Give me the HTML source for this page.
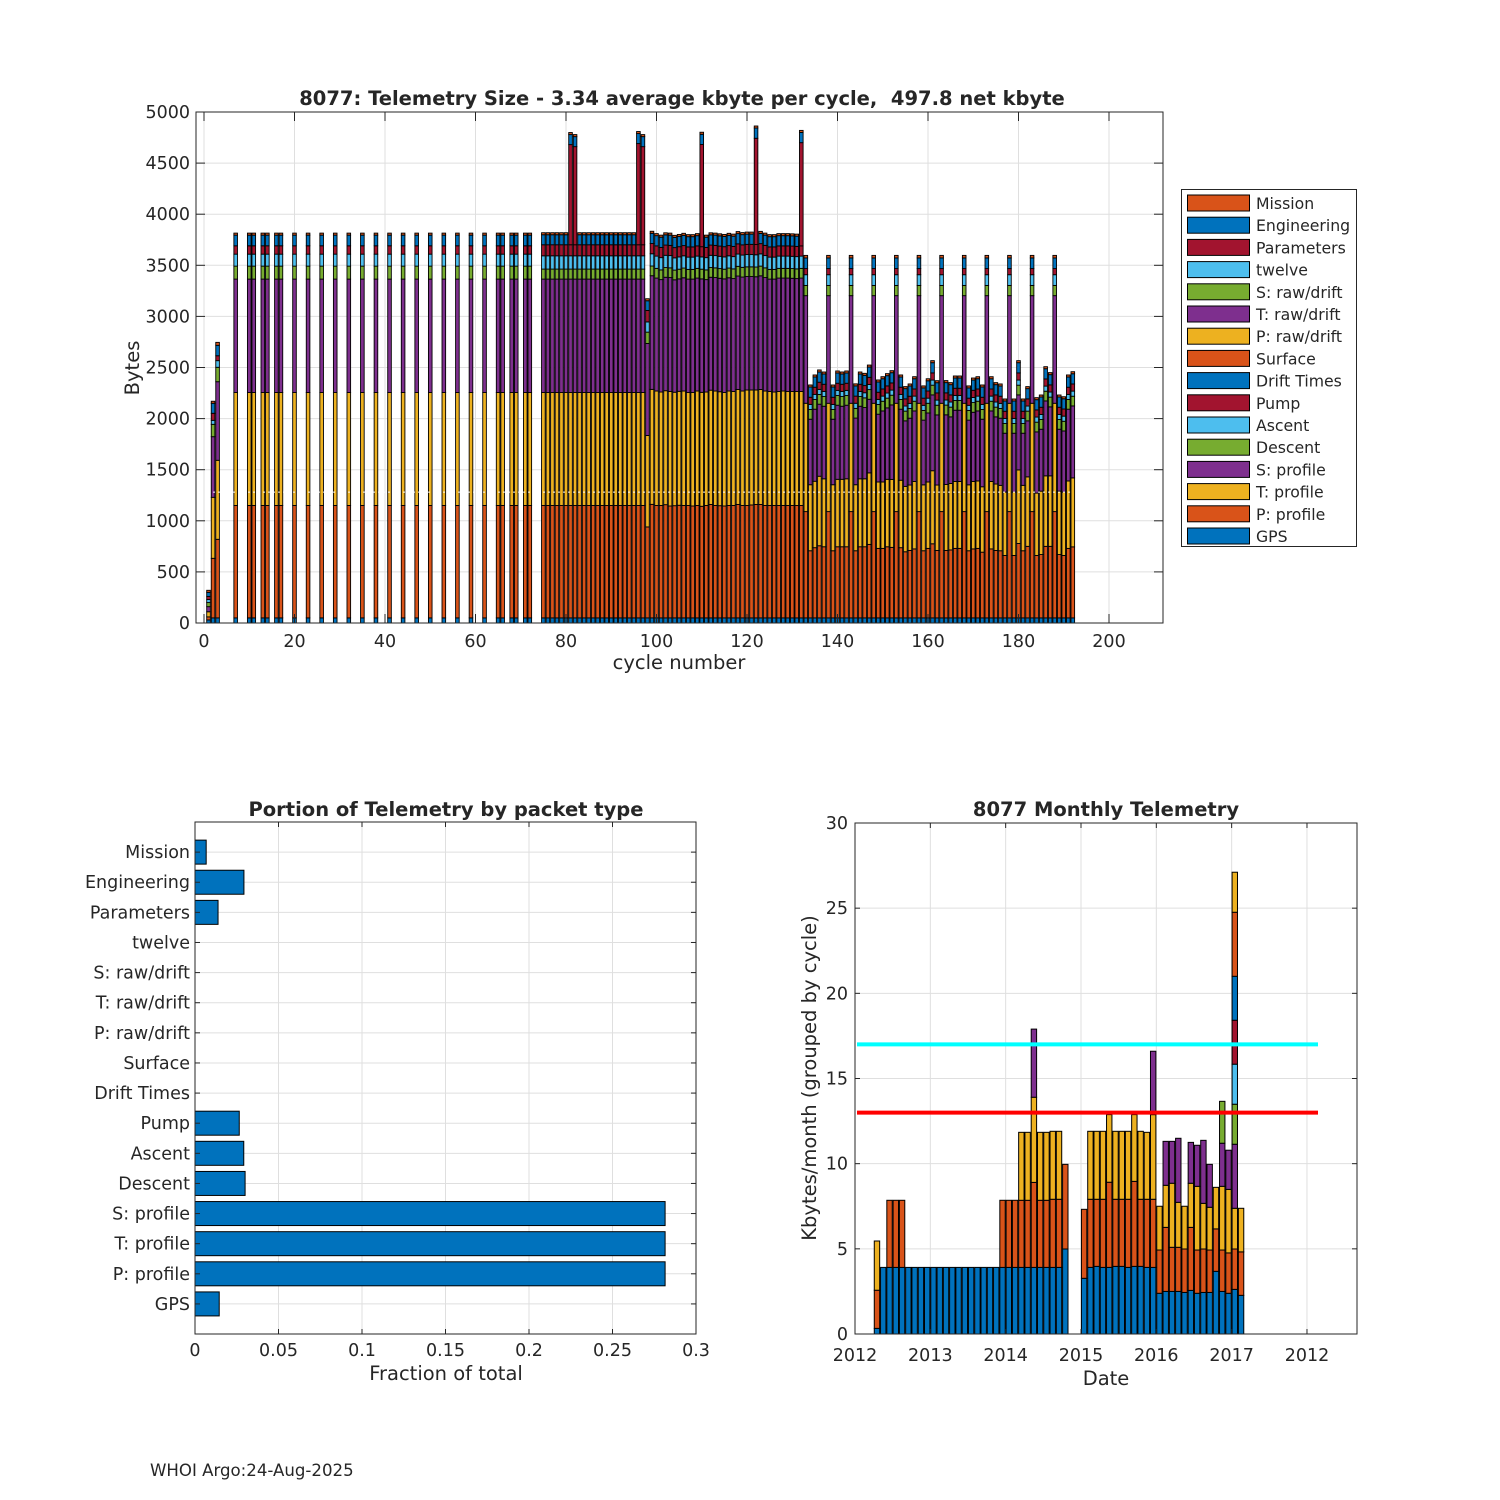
<!DOCTYPE html>
<html><head><meta charset="utf-8"><title>8077 Telemetry</title>
<style>
html,body{margin:0;padding:0;background:#fff;}
svg{display:block;font-family:"DejaVu Sans","Liberation Sans",sans-serif;}
text{fill:#262626;}
</style></head>
<body>
<svg id="fig" width="1500" height="1500" viewBox="0 0 1500 1500" xmlns="http://www.w3.org/2000/svg">
<rect x="0" y="0" width="1500" height="1500" fill="#fff"/>
<g id="top"></g>
<g id="bl"></g>
<g id="br"></g>
<text x="150" y="1476" font-size="16.6">WHOI Argo:24-Aug-2025</text>
</svg>
<script>
// ===== Top chart data (bytes per cycle, per packet type) =====
const cycles = [1,2,3,7,10,11,13,14,16,17,20,23,26,29,32,35,38,41,44,47,50,53,56,59,62,65,66,68,69,71,72,
75,76,77,78,79,80,81,82,83,84,85,86,87,88,89,90,91,92,93,94,95,96,97,
98,
99,100,101,102,103,104,105,106,107,108,109,110,111,112,113,114,115,116,117,118,119,120,121,122,123,124,125,126,127,128,129,130,131,132,
133,134,135,136,137,138,139,140,141,142,143,144,145,146,147,148,149,150,151,152,153,154,155,156,157,158,159,160,161,162,163,164,165,166,167,168,169,170,171,172,173,174,175,176,177,178,179,180,181,182,183,184,185,186,187,188,189,190,191,192];
const gps = [30,50,50,
50,50,50,50,50,50,50,50,50,50,50,50,50,50,50,50,50,50,50,50,50,50,50,50,50,50,50,50,
50,50,50,50,50,50,50,50,50,50,50,50,50,50,50,50,50,50,50,50,50,50,50,
50,
50,50,50,50,50,50,50,50,50,50,50,50,50,50,50,50,50,50,50,50,50,50,50,50,50,50,50,50,50,50,50,50,50,50,
50,50,50,50,50,50,50,50,50,50,50,50,50,50,50,50,50,50,50,50,50,50,50,50,50,50,50,50,50,50,50,50,50,50,50,50,50,50,50,50,50,50,50,50,50,50,50,50,50,50,50,50,50,50,50,50,50,50,50,50];
const pProfile = [30,583,769,
1100,1100,1100,1100,1100,1100,1100,1100,1100,1100,1100,1100,1100,1100,1100,1100,1100,1100,1100,1100,1100,1100,1100,1100,1100,1100,1100,1100,
1100,1100,1100,1100,1100,1100,1100,1100,1100,1100,1100,1100,1100,1100,1100,1100,1100,1100,1100,1100,1100,1100,1100,
890,
1111,1100,1100,1108,1095,1098,1102,1100,1100,1095,1100,1092,1100,1110,1100,1098,1095,1100,1100,1110,1100,1100,1105,1110,1110,1100,1100,1100,1100,1100,1100,1100,1100,1100,
1040,657,687,706,696,1040,657,696,696,696,1040,657,696,696,719,1040,680,680,696,690,1040,687,647,660,675,1040,657,680,725,660,1040,660,665,680,680,1040,657,675,680,643,1040,675,660,657,611,1040,611,728,657,700,1040,611,620,700,700,1040,620,611,680,695];
const tProfile = [50,597,773,
1105,1105,1105,1105,1105,1105,1105,1105,1105,1105,1105,1105,1105,1105,1105,1105,1105,1105,1105,1105,1105,1105,1105,1105,1105,1105,1105,1105,
1105,1105,1105,1105,1105,1105,1105,1105,1105,1105,1105,1105,1105,1105,1105,1105,1105,1105,1105,1105,1105,1105,1105,
895,
1125,1120,1110,1115,1120,1110,1115,1120,1105,1110,1120,1115,1110,1118,1120,1115,1110,1120,1115,1125,1120,1130,1125,1120,1125,1120,1115,1110,1115,1120,1115,1115,1115,1115,
1060,646,650,680,665,1060,646,660,660,665,1060,646,665,665,700,1060,650,650,660,665,1060,660,640,640,660,1060,645,650,715,640,1060,645,650,655,655,1060,645,660,660,640,1060,660,650,640,620,1060,620,720,640,680,1060,610,620,690,690,1060,620,620,660,675];
const sProfile = [50,593,769,
1110,1110,1110,1110,1110,1110,1110,1110,1110,1110,1110,1110,1110,1110,1110,1110,1110,1110,1110,1110,1110,1110,1110,1110,1110,1110,1110,1110,
1110,1110,1110,1110,1110,1110,1110,1110,1110,1110,1110,1110,1110,1110,1110,1110,1110,1110,1110,1110,1110,1110,1110,
900,
1112,1105,1100,1110,1115,1100,1100,1108,1110,1110,1105,1110,1100,1105,1110,1110,1112,1108,1105,1110,1115,1110,1110,1108,1112,1110,1100,1105,1110,1105,1110,1108,1105,1110,
1053,641,705,705,710,1053,641,725,715,720,1053,652,710,697,720,1053,663,695,699,729,1053,695,641,654,690,1053,633,675,742,686,1053,682,652,697,697,1053,633,677,685,661,1053,690,657,657,576,1053,576,734,510,548,1053,599,606,733,675,1053,606,598,702,704];
const descent = [40,121,141,
127,127,127,127,127,127,127,127,127,127,127,127,127,127,127,127,127,127,127,127,127,127,127,127,127,127,127,127,
98,98,98,98,98,98,98,98,98,98,98,98,98,98,98,98,98,98,98,98,98,98,98,
111,
95,95,95,95,95,95,95,95,95,95,95,95,95,95,95,95,95,95,95,95,95,95,95,95,95,95,95,95,95,95,95,95,95,95,
100,95,95,95,95,100,95,95,95,95,100,95,95,95,95,100,95,95,95,95,100,95,95,95,95,100,95,95,95,95,100,95,95,95,95,100,95,95,95,95,100,95,95,95,95,100,95,95,95,95,100,95,95,95,95,100,95,95,95,95];
const ascent = [30,39,65,
117,117,117,117,117,117,117,117,117,117,117,117,117,117,117,117,117,117,117,117,117,117,117,117,117,117,117,117,
130,130,130,130,130,130,130,130,130,130,130,130,130,130,130,130,130,130,130,130,130,130,130,
100,
120,120,120,120,120,120,120,120,120,120,120,120,120,120,120,120,120,120,120,120,120,120,120,120,120,120,120,120,120,120,120,120,120,120,
105,50,50,50,50,105,50,50,50,50,105,50,50,50,50,105,50,50,50,50,105,50,50,50,50,105,50,50,50,50,105,50,50,50,50,105,50,50,50,50,105,50,50,50,50,105,50,50,50,50,105,50,50,50,50,105,50,50,50,50];
const pump = [30,69,48,
82,82,82,82,82,82,82,82,82,82,82,82,82,82,82,82,82,82,82,82,82,82,82,82,82,82,82,82,
108,108,108,108,108,108,108,108,108,108,108,108,108,108,108,108,108,108,108,108,108,108,108,
112,
100,100,100,100,100,100,100,100,100,100,100,100,100,100,100,100,100,100,100,100,100,100,100,100,100,100,100,100,100,100,100,100,100,100,
60,70,70,70,70,60,70,70,70,70,60,70,70,70,70,60,70,70,70,70,60,70,70,70,70,60,70,70,70,70,60,70,70,70,70,60,70,70,70,70,60,70,70,70,70,60,70,70,70,70,60,70,70,70,70,60,70,70,70,70];
const params = [0,0,0,
0,0,0,0,0,0,0,0,0,0,0,0,0,0,0,0,0,0,0,0,0,0,0,0,0,0,0,0,
0,0,0,0,0,0,980,960,0,0,0,0,0,0,0,0,0,0,0,0,0,990,960,
0,
0,0,0,0,0,0,0,0,0,0,0,1000,0,0,0,0,0,0,0,0,0,0,0,1040,0,0,0,0,0,0,0,0,0,1010,
0,0,0,0,0,0,0,0,0,0,0,0,0,0,0,0,0,0,0,0,0,0,0,0,0,0,0,0,0,0,0,0,0,0,0,0,0,0,0,0,0,0,0,0,0,0,0,0,0,0,0,0,0,0,0,0,0,0,0,0];
const engineering = [40,98,102,
104,104,104,104,104,104,104,104,104,104,104,104,104,104,104,104,104,104,104,104,104,104,104,104,104,104,104,104,
98,98,98,98,98,98,98,98,98,98,98,98,98,98,98,98,98,98,98,98,98,98,98,
95,
100,100,100,100,100,100,100,100,100,100,100,100,100,100,100,100,100,100,100,100,100,100,100,100,100,100,100,100,100,100,100,100,100,100,
104,100,100,100,100,104,100,100,100,100,104,100,100,100,100,104,100,100,100,100,104,100,100,100,100,104,100,100,100,100,104,100,100,100,100,104,100,100,100,100,104,100,100,100,100,104,100,100,100,100,104,100,100,100,100,104,100,100,100,100];
const mission = [20,20,29,
20,20,20,20,20,20,20,20,20,20,20,20,20,20,20,20,20,20,20,20,20,20,20,20,20,20,20,20,
20,20,20,20,20,20,20,20,20,20,20,20,20,20,20,20,20,20,20,20,20,20,20,
20,
20,20,20,20,20,20,20,20,20,20,20,20,20,20,20,20,20,20,20,20,20,20,20,20,20,20,20,20,20,20,20,20,20,20,
25,20,20,20,20,25,20,20,20,20,25,20,20,20,20,25,20,20,20,20,25,20,20,20,20,25,20,20,20,20,25,20,20,20,20,25,20,20,20,20,25,20,20,20,20,25,20,20,20,20,25,20,20,20,20,25,20,20,20,20];
const topYTicks = [0,500,1000,1500,2000,2500,3000,3500,4000,4500,5000];
const topXTicks = [0,20,40,60,80,100,120,140,160,180,200];
const meanLine = 1280;

// ===== Bottom-left data =====
const packetNames = ["Mission","Engineering","Parameters","twelve","S: raw/drift","T: raw/drift","P: raw/drift","Surface","Drift Times","Pump","Ascent","Descent","S: profile","T: profile","P: profile","GPS"];
const packetFractions = [0.0067,0.0293,0.0138,0,0,0,0,0,0,0.0265,0.0292,0.0300,0.2815,0.2815,0.2815,0.0145];
const fracTicks = [0,0.05,0.1,0.15,0.2,0.25,0.3];
const fracTickLabels = ["0","0.05","0.1","0.15","0.2","0.25","0.3"];

// ===== Bottom-right data (month index from Jan 2012, per-cycle kbytes stacked) =====
const months = [3,4,5,6,7,8,9,10,11,12,13,14,15,16,17,18,19,20,21,22,23,24,25,26,27,28,29,30,31,32,33,36,37,38,39,40,41,42,43,44,45,46,47,48,49,50,51,52,53,54,55,56,57,58,59,60,61];
const monthSegments = [
[0.33,2.24,2.89],[3.91],[3.91,3.94],[3.91,3.94],[3.91,3.94],
[3.91],[3.91],[3.91],[3.91],[3.91],[3.91],[3.91],[3.91],[3.91],[3.91],[3.91],[3.91],[3.91],[3.91],[3.91],
[3.91,3.94],[3.91,3.94],[3.91,3.94],
[3.91,3.94,3.99],[3.91,3.94,3.99],[3.91,4.99,5.0,4.0],[3.91,3.94,3.99],[3.91,3.94,3.99],
[3.91,4.0,3.99],[3.91,4.0,3.99],[4.99,4.97],
[3.27,4.05],[3.91,4.0,3.99],[3.97,3.94,3.99],[3.91,4.0,3.99],[3.91,5.0,3.97],
[3.97,3.94,3.99],[3.97,3.94,3.99],[3.91,4.0,3.99],[3.97,4.99,3.92],[3.97,3.94,3.99],[3.91,4.0,3.93],
[3.91,4.0,4.97,3.72],
[2.39,2.54,2.57],[2.5,3.76,2.47,2.58],[2.5,2.59,3.76,2.46],[2.5,2.59,2.64,3.76],[2.44,2.55,2.51],
[2.56,3.7,2.59,2.4],[2.39,2.54,3.74,2.41],[2.44,2.55,2.68,3.7],[2.44,2.49,2.51,2.52],[3.68,2.49,2.44],
[2.5,2.43,3.74,2.53,2.46],[2.39,2.37,3.73,2.3],
[2.62,2.37,2.39,3.76,2.35,2.35,2.58,2.58,3.76,2.35],
[2.27,2.55,2.56]];
const monthYTicks = [0,5,10,15,20,25,30];
const yearTickLabels = ["2012","2013","2014","2015","2016","2017","2012"];
const limitHigh = 17;
const limitLow = 13;

// ===== helpers =====
const NS = "http://www.w3.org/2000/svg";
const C = {blue:"#0072BD",orange:"#D95319",yellow:"#EDB120",purple:"#7E2F8E",green:"#77AC30",lblue:"#4DBEEE",red:"#A2142F"};
function mk(parent, tag, attrs, txt){
  const e = document.createElementNS(NS, tag);
  for (const k in attrs) e.setAttribute(k, attrs[k]);
  if (txt !== undefined) e.textContent = txt;
  parent.appendChild(e);
  return e;
}
const GRID = "#dfdfdf", AX = "#262626";
const TICKF = 17.5, TITLEF = 19.5, LABF = 19.5;

// ===== TOP CHART =====
(function(){
  const g = document.getElementById('top');
  const L=196, R=1163, T=112, B=623;
  const xs = v => 204 + 4.525*v;
  const ys = v => 623 - v*0.1022;
  topXTicks.forEach(t=>{
    const l = mk(g,'line',{x1:xs(t),x2:xs(t),y1:T,y2:B,stroke:GRID,'stroke-width':1});
    
    
  });
  topYTicks.forEach(t=>{
    const l = mk(g,'line',{x1:L,x2:R,y1:ys(t),y2:ys(t),stroke:GRID,'stroke-width':1});
    
    
  });
  const series = [gps,pProfile,tProfile,sProfile,descent,ascent,pump,params,engineering,mission];
  const cols = [C.blue,C.orange,C.yellow,C.purple,C.green,C.lblue,C.red,C.red,C.blue,C.orange];
  const names = ['gps','p-profile','t-profile','s-profile','descent','ascent','pump','parameters','engineering','mission'];
  const w = 0.8*4.525;
  cycles.forEach((c,i)=>{
    let base = 0;
    series.forEach((s,k)=>{
      const v = s[i];
      if (v<=0) return;
      const y1 = ys(base+v), y0 = ys(base);
      const r = mk(g,'rect',{x:xs(c)-w/2,y:y1,width:w,height:y0-y1,fill:cols[k],stroke:'#000','stroke-width':0.9});
      
      
      base += v;
    });
  });
  const ml = mk(g,'line',{x1:xs(2),x2:xs(192),y1:ys(meanLine),y2:ys(meanLine),stroke:'#fff','stroke-width':1,'stroke-dasharray':'2,3'});
  
  
  const box = mk(g,'rect',{x:L,y:T,width:R-L,height:B-T,fill:'none',stroke:AX,'stroke-width':1});
  
  
  topXTicks.forEach(t=>{
    mk(g,'line',{x1:xs(t),x2:xs(t),y1:B,y2:B-9,stroke:AX});
    mk(g,'line',{x1:xs(t),x2:xs(t),y1:T,y2:T+9,stroke:AX});
    const tx = mk(g,'text',{x:xs(t),y:B+24,'font-size':TICKF,'text-anchor':'middle'},String(t));
    
    
  });
  topYTicks.forEach(t=>{
    mk(g,'line',{x1:L,x2:L+9,y1:ys(t),y2:ys(t),stroke:AX});
    mk(g,'line',{x1:R,x2:R-9,y1:ys(t),y2:ys(t),stroke:AX});
    const tx = mk(g,'text',{x:L-6,y:ys(t)+6,'font-size':TICKF,'text-anchor':'end'},String(t));
    
    
  });
  const ti = mk(g,'text',{x:682,y:105,'font-size':TITLEF,'font-weight':'bold','text-anchor':'middle'},'8077: Telemetry Size - 3.34 average kbyte per cycle,  497.8 net kbyte');
  
  
  ti.style.whiteSpace='pre';
  const xl = mk(g,'text',{x:679,y:669,'font-size':LABF,'text-anchor':'middle'},'cycle number');
  
  
  const yl = mk(g,'text',{x:0,y:0,'font-size':LABF,'text-anchor':'middle',transform:'translate(139,368) rotate(-90)'},'Bytes');
  
  
  // legend
  const lg = mk(g,'g',{});
  
  
  mk(lg,'rect',{x:1181.5,y:189.5,width:175,height:357,fill:'#fff',stroke:AX,'stroke-width':1});
  const legCols = [C.orange,C.blue,C.red,C.lblue,C.green,C.purple,C.yellow,C.orange,C.blue,C.red,C.lblue,C.green,C.purple,C.yellow,C.orange,C.blue];
  packetNames.forEach((n,i)=>{
    const y = 195 + i*22.2;
    const e = mk(lg,'g',{});
    
    
    mk(e,'rect',{x:1187.5,y:y,width:62,height:16,fill:legCols[i],stroke:'#000','stroke-width':1});
    mk(e,'text',{x:1256,y:y+14,'font-size':15.7},n);
  });
})();

// ===== BOTTOM-LEFT CHART =====
(function(){
  const g = document.getElementById('bl');
  const L=195, R=696, T=822, B=1334;
  const xs = v => L + v*(R-L)/0.3;
  const yc = i => T + 30.12*(i+1);
  fracTicks.forEach(t=>{
    const l = mk(g,'line',{x1:xs(t),x2:xs(t),y1:T,y2:B,stroke:GRID});
    
    
  });
  packetNames.forEach((n,i)=>{
    const l = mk(g,'line',{x1:L,x2:R,y1:yc(i),y2:yc(i),stroke:GRID});
    
    
  });
  packetFractions.forEach((v,i)=>{
    if (v<=0) return;
    const r = mk(g,'rect',{x:xs(0),y:yc(i)-12,width:xs(v)-xs(0),height:24,fill:C.blue,stroke:'#000','stroke-width':1});
    
    
  });
  const box = mk(g,'rect',{x:L,y:T,width:R-L,height:B-T,fill:'none',stroke:AX});
  
  
  fracTicks.forEach((t,i)=>{
    mk(g,'line',{x1:xs(t),x2:xs(t),y1:B,y2:B-5,stroke:AX});
    mk(g,'line',{x1:xs(t),x2:xs(t),y1:T,y2:T+5,stroke:AX});
    const tx = mk(g,'text',{x:xs(t),y:B+22,'font-size':TICKF,'text-anchor':'middle'},fracTickLabels[i]);
    
    
  });
  packetNames.forEach((n,i)=>{
    mk(g,'line',{x1:L,x2:L+5,y1:yc(i),y2:yc(i),stroke:AX});
    mk(g,'line',{x1:R,x2:R-5,y1:yc(i),y2:yc(i),stroke:AX});
    const tx = mk(g,'text',{x:L-5,y:yc(i)+6,'font-size':TICKF,'text-anchor':'end'},n);
    
    
  });
  const ti = mk(g,'text',{x:446,y:816,'font-size':TITLEF,'font-weight':'bold','text-anchor':'middle'},'Portion of Telemetry by packet type');
  
  
  const xl = mk(g,'text',{x:446,y:1380,'font-size':LABF,'text-anchor':'middle'},'Fraction of total');
  
  
})();

// ===== BOTTOM-RIGHT CHART =====
(function(){
  const g = document.getElementById('br');
  const L=855, R=1357, T=823, B=1334;
  const mw = 75.33/12;
  const xm = m => L + mw*(m+0.5);
  const ys = v => B - v*(B-T)/30;
  const cyc = [C.blue,C.orange,C.yellow,C.purple,C.green,C.lblue,C.red];
  yearTickLabels.forEach((lab,i)=>{
    const x = L + 75.33*i;
    const l = mk(g,'line',{x1:x,x2:x,y1:T,y2:B,stroke:GRID});
    
    
  });
  monthYTicks.forEach(t=>{
    const l = mk(g,'line',{x1:L,x2:R,y1:ys(t),y2:ys(t),stroke:GRID});
    
    
  });
  months.forEach((m,i)=>{
    let base=0;
    monthSegments[i].forEach((v,k)=>{
      const r = mk(g,'rect',{x:xm(m)-2.7,y:ys(base+v),width:5.4,height:ys(base)-ys(base+v),fill:cyc[k%7],stroke:'#000','stroke-width':1});
      
      
      base+=v;
    });
  });
  const hl = mk(g,'line',{x1:857,x2:1318,y1:ys(limitHigh),y2:ys(limitHigh),stroke:'#00FFFF','stroke-width':4});
  
  
  const ll = mk(g,'line',{x1:857,x2:1318,y1:ys(limitLow),y2:ys(limitLow),stroke:'#FF0000','stroke-width':4});
  
  
  const box = mk(g,'rect',{x:L,y:T,width:R-L,height:B-T,fill:'none',stroke:AX});
  
  
  yearTickLabels.forEach((lab,i)=>{
    const x = L + 75.33*i;
    mk(g,'line',{x1:x,x2:x,y1:B,y2:B-5,stroke:AX});
    mk(g,'line',{x1:x,x2:x,y1:T,y2:T+5,stroke:AX});
    const tx = mk(g,'text',{x:x,y:B+27,'font-size':TICKF,'text-anchor':'middle'},lab);
    
    
  });
  monthYTicks.forEach(t=>{
    mk(g,'line',{x1:L,x2:L+5,y1:ys(t),y2:ys(t),stroke:AX});
    mk(g,'line',{x1:R,x2:R-5,y1:ys(t),y2:ys(t),stroke:AX});
    const tx = mk(g,'text',{x:L-7,y:ys(t)+6,'font-size':TICKF,'text-anchor':'end'},String(t));
    
    
  });
  const ti = mk(g,'text',{x:1106,y:816,'font-size':TITLEF,'font-weight':'bold','text-anchor':'middle'},'8077 Monthly Telemetry');
  
  
  const xl = mk(g,'text',{x:1106,y:1385,'font-size':LABF,'text-anchor':'middle'},'Date');
  
  
  const yl = mk(g,'text',{x:0,y:0,'font-size':LABF,'text-anchor':'middle',transform:'translate(816,1078) rotate(-90)'},'Kbytes/month (grouped by cycle)');
  
  
})();
</script>
</body></html>
